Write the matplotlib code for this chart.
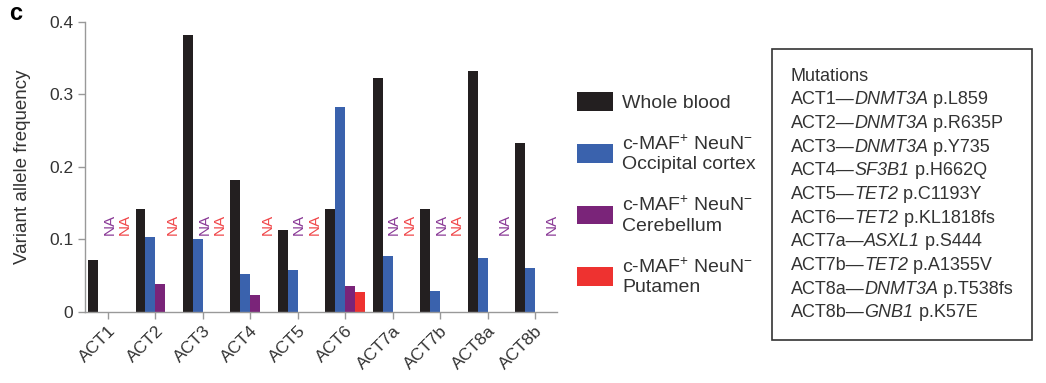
import matplotlib
matplotlib.use("Agg")
import matplotlib.pyplot as plt
import numpy as np
from matplotlib.patches import Patch
from matplotlib.offsetbox import TextArea, HPacker, VPacker, AnchoredOffsetbox

plt.rcParams['font.family'] = ['Liberation Sans', 'DejaVu Sans']
plt.rcParams['mathtext.fontset'] = 'custom'
plt.rcParams['mathtext.rm'] = 'Liberation Sans'
plt.rcParams['mathtext.it'] = 'Liberation Sans:italic'

samples = ['ACT1', 'ACT2', 'ACT3', 'ACT4', 'ACT5', 'ACT6', 'ACT7a', 'ACT7b', 'ACT8a', 'ACT8b']
whole_blood = [0.072, 0.142, 0.382, 0.182, 0.113, 0.142, 0.323, 0.142, 0.333, 0.233]
occipital = [0.0, 0.103, 0.100, 0.052, 0.058, 0.282, 0.077, 0.028, 0.074, 0.060]
cerebellum = [0.0, 0.038, 0.0, 0.023, 0.0, 0.035, 0.0, 0.0, 0.0, 0.0]
putamen = [0.0, 0.0, 0.0, 0.0, 0.0, 0.027, 0.0, 0.0, 0.0, 0.0]
series_names = ['Whole blood',
                'c-MAF$^{+}$ NeuN$^{-}$\nOccipital cortex',
                'c-MAF$^{+}$ NeuN$^{-}$\nCerebellum',
                'c-MAF$^{+}$ NeuN$^{-}$\nPutamen']
colors = ['#231f20', '#3a62ad', '#7a2479', '#ee3230']
na_colors = ['#231f20', '#3a62ad', '#8a3a96', '#f0474a']
# (sample, series, slot): slot 0 = first NA column, 1 = second NA column
na_marks = [(0, 2, 0), (0, 3, 1), (1, 3, 1), (2, 2, 0), (2, 3, 1), (3, 3, 1),
            (4, 2, 0), (4, 3, 1), (6, 2, 0), (6, 3, 1), (7, 2, 0), (7, 3, 1),
            (8, 2, 1), (9, 2, 1)]
mutations = [('ACT1', 'DNMT3A', 'p.L859'), ('ACT2', 'DNMT3A', 'p.R635P'),
             ('ACT3', 'DNMT3A', 'p.Y735'), ('ACT4', 'SF3B1', 'p.H662Q'),
             ('ACT5', 'TET2', 'p.C1193Y'), ('ACT6', 'TET2', 'p.KL1818fs'),
             ('ACT7a', 'ASXL1', 'p.S444'), ('ACT7b', 'TET2', 'p.A1355V'),
             ('ACT8a', 'DNMT3A', 'p.T538fs'), ('ACT8b', 'GNB1', 'p.K57E')]

fig = plt.figure(figsize=(10.46, 3.83), dpi=100)
ax = fig.add_axes([0.0813, 0.1862, 0.4512, 0.7564])

x = np.arange(len(samples))
w = 0.21
vals = [whole_blood, occipital, cerebellum, putamen]
handles = []
for i, v in enumerate(vals):
    ax.bar(x + (i - 1.5) * w, v, width=w, color=colors[i], linewidth=0)
    handles.append(Patch(facecolor=colors[i], edgecolor='none', label=series_names[i]))

na_offset = [0.03, 0.36]
for s, k, slot in na_marks:
    ax.text(s + na_offset[slot], 0.121, 'NA', rotation=90, color=na_colors[k],
            ha='center', va='center', fontsize=11)

ax.set_xlim(-0.484, 9.463)
ax.set_ylim(0, 0.4)
ax.set_yticks([0, 0.1, 0.2, 0.3, 0.4])
ax.set_yticklabels(['0', '0.1', '0.2', '0.3', '0.4'])
ax.set_xticks(x)
ax.set_xticklabels(samples, rotation=45, ha='right', rotation_mode='anchor', fontsize=12.5)
ax.set_ylabel('Variant allele frequency', fontsize=13.5, color='#333333', labelpad=13)
for sp in ['top', 'right']:
    ax.spines[sp].set_visible(False)
for sp in ['left', 'bottom']:
    ax.spines[sp].set_color('#999999')
    ax.spines[sp].set_linewidth(1.0)
ax.tick_params(colors='#999999', labelcolor='#333333', length=5, width=1.0)
ax.tick_params(axis='y', labelsize=12.5)

fig.text(0.015, 0.966, 'c', fontsize=17, fontweight='bold', va='center', ha='center')

fig.legend(handles=handles, loc='upper left', bbox_to_anchor=(577 / 1046, 1 - 92 / 383),
           frameon=False, fontsize=14, handlelength=1.86, handleheight=1.12,
           labelspacing=1.15, handletextpad=0.46, labelcolor='#333333',
           borderpad=0, borderaxespad=0)

# mutation key box
tp = dict(fontsize=13, color='#333333')
lines = [TextArea('Mutations', textprops=tp)]
for name, gene, prot in mutations:
    parts = [TextArea(name + '\u2014', textprops=tp),
             TextArea(gene, textprops=dict(tp, style='italic')),
             TextArea(' ' + prot, textprops=tp)]
    lines.append(HPacker(children=parts, pad=0, sep=0, align='baseline'))
box = VPacker(children=lines, pad=0, sep=4.8, align='left')
anch = AnchoredOffsetbox(loc='upper left', child=box, pad=1.35, borderpad=0,
                         frameon=True, bbox_to_anchor=(772 / 1046, 1 - 49 / 383),
                         bbox_transform=fig.transFigure)
anch.patch.set_edgecolor('#333333')
anch.patch.set_linewidth(1.2)
anch.patch.set_boxstyle('square', pad=0)
fig.add_artist(anch)

fig.savefig('out.png', dpi=100)
